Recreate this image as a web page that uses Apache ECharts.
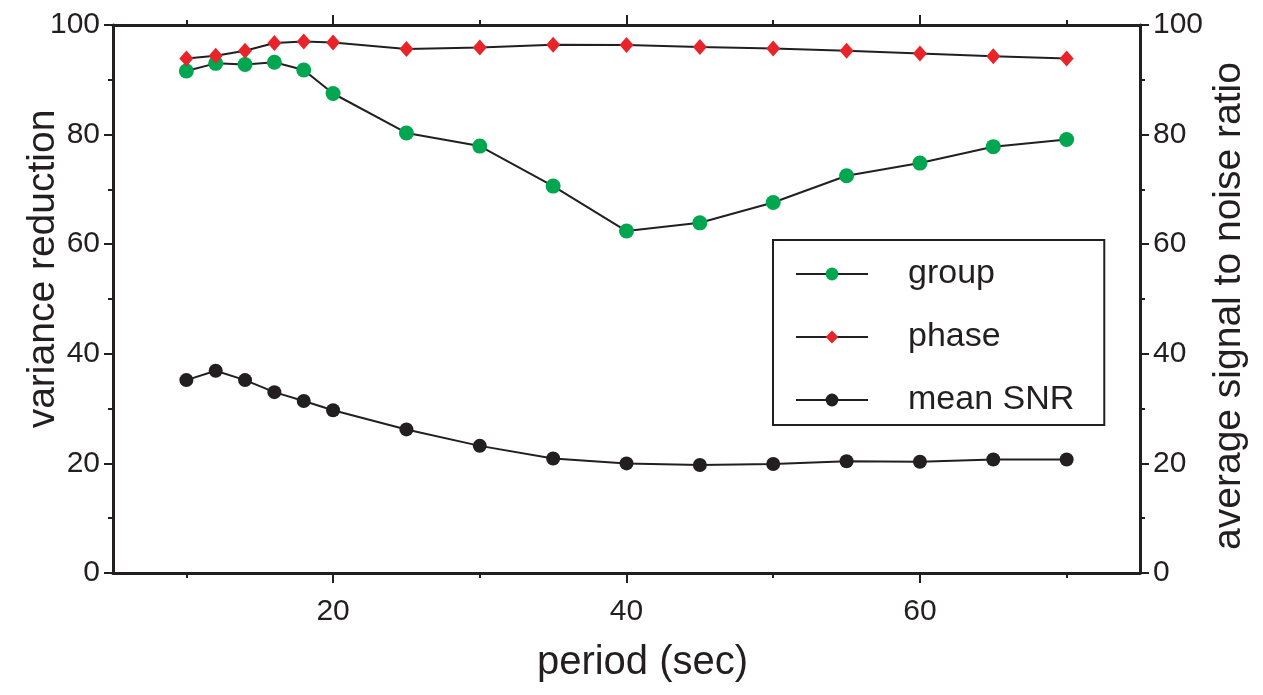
<!DOCTYPE html>
<html>
<head>
<meta charset="utf-8">
<script src="https://cdn.jsdelivr.net/npm/echarts@6/dist/echarts.min.js"></script>
<style>
  html, body { margin: 0; padding: 0; background: #fff; }
  #chart { width: 1263px; height: 695px; }
</style>
</head>
<body>
<div id="chart"></div>
<script>
// periods (sec)
var periods = [10, 12, 14, 16, 18, 20, 25, 30, 35, 40, 45, 50, 55, 60, 65, 70]
// variance reduction, group velocity
var groupVR = [91.6, 93.0, 92.8, 93.2, 91.8, 87.5, 80.3, 77.9, 70.6, 62.4, 63.9, 67.6, 72.5, 74.8, 77.8, 79.1]
// variance reduction, phase velocity
var phaseVR = [93.9, 94.4, 95.3, 96.7, 97.0, 96.8, 95.6, 95.9, 96.4, 96.35, 96.0, 95.7, 95.3, 94.8, 94.3, 93.9]
// average signal to noise ratio
var meanSNR = [35.2, 36.9, 35.2, 33.0, 31.4, 29.7, 26.2, 23.2, 20.9, 20.0, 19.7, 19.9, 20.4, 20.3, 20.7, 20.7]

var majorX = [20, 40, 60]
var minorX = [10, 30, 50, 70]

var ink = '#231f20'
var font = "'Liberation Sans', Arial, sans-serif"

function pairs (ys) {
  return periods.map(function (p, i) { return [p, ys[i]] })
}

var chart = echarts.init(document.getElementById('chart'))

// x axes: bottom (labels + major ticks), bottom minor ticks, top major, top minor
function xAxisOf (position, ticks, len, withLabels, withLine) {
  return {
    type: 'value',
    position: position,
    min: 5,
    max: 75,
    name: withLabels ? 'period (sec)' : '',
    nameLocation: 'middle',
    nameGap: 70,
    nameMoveOverlap: false,
    nameTextStyle: { fontFamily: font, fontSize: 40, color: ink, padding: [0, 0, 0, 32] },
    axisLine: { show: withLine, onZero: false, lineStyle: { color: ink, width: 3 } },
    axisTick: { show: true, customValues: ticks, length: len, lineStyle: { color: ink, width: 2 } },
    axisLabel: {
      show: withLabels,
      customValues: majorX,
      margin: 24,
      fontFamily: font,
      fontSize: 30,
      color: ink
    },
    splitLine: { show: false }
  }
}

function yAxisOf (position, name, gap, pad) {
  return {
    type: 'value',
    position: position,
    min: 0,
    max: 100,
    interval: 20,
    name: name,
    nameLocation: 'middle',
    nameGap: gap,
    nameMoveOverlap: false,
    nameTextStyle: { fontFamily: font, fontSize: 39, color: ink, padding: pad },
    axisLine: { show: true, lineStyle: { color: ink, width: 3 } },
    axisTick: { show: true, length: 9, lineStyle: { color: ink, width: 2 } },
    minorTick: { show: true, splitNumber: 2, length: 5, lineStyle: { color: ink, width: 2 } },
    axisLabel: { margin: 13, fontFamily: font, fontSize: 30, color: ink },
    splitLine: { show: false },
    minorSplitLine: { show: false }
  }
}

var option = {
  backgroundColor: '#fff',
  animation: false,
  grid: { left: 113, right: 123, top: 25, bottom: 122, containLabel: false },
  legend: {
    orient: 'vertical',
    left: 773,
    top: 240,
    padding: [17, 30, 8, 22],
    itemGap: 29,
    itemWidth: 72,
    itemHeight: 16,
    borderColor: ink,
    borderWidth: 2,
    textStyle: { fontFamily: font, fontSize: 34, color: ink, padding: [0, 0, 0, 35] },
    data: ['group', 'phase', 'mean SNR']
  },
  xAxis: [
    xAxisOf('bottom', majorX, 10, true, true),
    xAxisOf('bottom', minorX, 5, false, false),
    xAxisOf('top', majorX, 10, false, true),
    xAxisOf('top', minorX, 5, false, false)
  ],
  yAxis: [
    yAxisOf('left', 'variance reduction', 50, [0, 0, 0, 60]),
    yAxisOf('right', 'average signal to noise ratio', 70, [0, 14, 0, 0])
  ],
  series: [
    {
      name: 'group',
      type: 'line',
      xAxisIndex: 0,
      yAxisIndex: 0,
      symbol: 'circle',
      symbolSize: 15,
      itemStyle: { color: '#00a650' },
      lineStyle: { color: ink, width: 2 },
      data: pairs(groupVR)
    },
    {
      name: 'phase',
      type: 'line',
      xAxisIndex: 0,
      yAxisIndex: 0,
      symbol: 'diamond',
      symbolSize: [14, 16],
      itemStyle: { color: '#e8242a' },
      lineStyle: { color: ink, width: 2 },
      data: pairs(phaseVR)
    },
    {
      name: 'mean SNR',
      type: 'line',
      xAxisIndex: 0,
      yAxisIndex: 1,
      symbol: 'circle',
      symbolSize: 14,
      itemStyle: { color: ink },
      lineStyle: { color: ink, width: 2 },
      data: pairs(meanSNR)
    }
  ]
}

chart.setOption(option)
</script>
</body>
</html>
